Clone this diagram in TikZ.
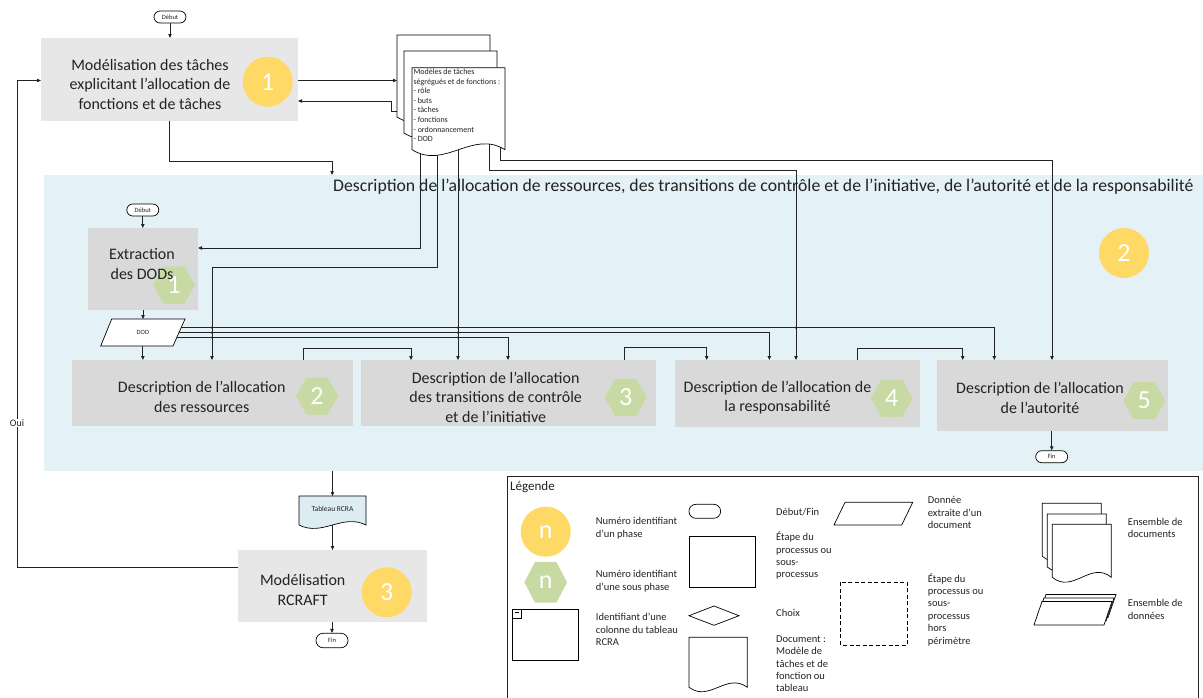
\documentclass[tikz,border=0pt]{standalone}
\usepackage{fontspec}
\setmainfont{Carlito}
\usetikzlibrary{arrows.meta,calc}
\pgfdeclarelayer{bg}
\pgfdeclarelayer{conn}
\pgfsetlayers{bg,conn,main}
\definecolor{regblue}{RGB}{228,241,246}
\definecolor{boxgray}{RGB}{217,217,217}
\definecolor{boxlight}{RGB}{232,231,231}
\definecolor{phase}{RGB}{255,217,102}
\definecolor{subph}{RGB}{199,218,163}
\definecolor{tabblue}{RGB}{221,236,243}
\definecolor{ink}{RGB}{35,35,35}
\newcommand\myfs[2]{\fontsize{#1}{#2}\selectfont}
% document shape: x, y, w, h, dev, style
\newcommand\docshape[6]{\draw[#6] (#1,#2) -- (#1+#3,#2) -- (#1+#3,#2+#4) .. controls (#1+0.65*#3,#2+#4-3.4*#5) and (#1+0.35*#3,#2+#4+3.4*#5) .. (#1,#2+#4) -- cycle;}
% hexagon: cx, cy, w, h
\newcommand\hexshape[4]{\fill[subph] (#1-#3/2,#2) -- (#1-#3/4,#2-#4/2) -- (#1+#3/4,#2-#4/2) -- (#1+#3/2,#2) -- (#1+#3/4,#2+#4/2) -- (#1-#3/4,#2+#4/2) -- cycle;}
\tikzset{
  arr/.style={draw=ink, line width=0.8pt, -{Triangle[length=4pt,width=3.4pt]}},
  ln/.style={draw=ink, line width=0.8pt},
  shp/.style={draw=black, line width=0.7pt, fill=white},
  stepbox/.style={fill=#1, draw=none, anchor=north west, inner sep=0pt, outer sep=0pt},
  pill/.style={draw=black, line width=0.7pt, fill=white, rounded corners=6pt, minimum width=32pt, minimum height=12pt, inner sep=0pt, font=\myfs{6.5}{7}, text=ink},
  phasenum/.style={circle, fill=phase, minimum size=50pt, inner sep=0pt, text=white, font=\myfs{26}{26}},
  subnum/.style={inner sep=0pt, text=white, font=\myfs{26}{26}},
  btxt/.style={align=center, font=\myfs{16}{19.5}, text=ink, inner sep=0pt},
  ltxt/.style={anchor=west, align=left, font=\myfs{10.5}{12.4}, text=ink, inner sep=0pt},
  frame/.style={anchor=north west, inner sep=0pt, outer sep=0pt, draw=none},
  jdot/.style={fill=ink}
}
\begin{document}
\begin{tikzpicture}[x=1pt,y=-1pt]
\useasboundingbox (0,0) rectangle (1203,697);

% ---------- background region ----------
\begin{pgfonlayer}{bg}
\node[stepbox=regblue, minimum width=1159pt, minimum height=296pt] (reg) at (44,175) {};
\node[anchor=west, font=\myfs{17.7}{20}, text=ink, inner sep=0pt] (regtitle) at (333,187) {Description de l’allocation de ressources, des transitions de contrôle et de l’initiative, de l’autorité et de la responsabilité};
\end{pgfonlayer}

% ---------- top part ----------
\node[pill] (deb1) at (170,17) {Début};
\node[stepbox=boxlight, minimum width=257pt, minimum height=83pt] (b1) at (41,38) {};
\node[phasenum] (p1) at (267.7,81.7) {1};
\node[btxt] (t1) at (150,84) {Modélisation des tâches\\explicitant l’allocation de\\fonctions et de tâches};

% document stack
\docshape{397}{35}{93}{82}{6}{shp}
\docshape{404}{51}{93}{82}{6}{shp}
\docshape{412}{67.7}{93}{82}{6}{shp}
\node[frame, minimum width=93pt, minimum height=82pt] (dk3) at (397,35) {};
\node[frame, minimum width=93pt, minimum height=82pt] (dk1) at (412,67.7) {};
\node[anchor=west, align=left, font=\myfs{8}{9.6}, text=ink, inner sep=0pt] (dtxt) at (413.3,105.3) {Modèles de tâches\\ségrégués et de fonctions :\\- rôle\\- buts\\- tâches\\- fonctions\\- ordonnancement\\- DOD};

% ---------- inside region ----------
\node[pill] (deb2) at (142.8,210) {Début};
\node[stepbox=boxgray, minimum width=110pt, minimum height=82pt] (ext) at (88,228) {};
\hexshape{174}{285}{42}{37}
\node[subnum] (h1) at (174,285) {1};
\node[btxt] (text) at (142,264) {Extraction\\des DODs};

% DOD parallelogram
\node[frame, minimum width=84.3pt, minimum height=27pt] (dod) at (100.7,319) {};
\draw[shp] (111.7,319) -- (185,319) -- (173,346) -- (100.7,346) -- cycle;
\node[font=\myfs{6.5}{7}, text=ink, inner sep=0pt] (dodt) at (dod.center) {DOD};

\node[stepbox=boxgray, minimum width=281pt, minimum height=66pt] (b2) at (72,360) {};
\node[stepbox=boxgray, minimum width=295pt, minimum height=66pt] (b3) at (361,360) {};
\node[stepbox=boxgray, minimum width=245pt, minimum height=67pt] (b4) at (675,360) {};
\node[stepbox=boxgray, minimum width=231pt, minimum height=71pt] (b5) at (937,360) {};
\hexshape{317}{396}{42}{37}
\hexshape{625.7}{397.3}{42}{37}
\hexshape{891.7}{398.3}{42}{37}
\hexshape{1144.3}{400.7}{42}{37}
\node[subnum] (h2) at (317,396) {2};
\node[subnum] (h3) at (625.7,397.3) {3};
\node[subnum] (h4) at (891.7,398.3) {4};
\node[subnum] (h5) at (1144.3,400.7) {5};
\node[btxt] (t2) at (201.8,397) {Description de l’allocation\\des ressources};
\node[btxt] (t3) at (495.7,397.2) {Description de l’allocation\\des transitions de contrôle\\et de l’initiative};
\node[btxt] (t4) at (777.5,397.8) {Description de l’allocation de\\la responsabilité};
\node[btxt] (t5) at (1040,397.8) {Description de l’allocation\\de l’autorité};
\node[pill] (fin2) at (1051.7,456.7) {Fin};
\node[phasenum] (p2) at (1124,253) {2};

% ---------- bottom part ----------
\docshape{299}{496}{67}{29}{3.5}{shp,fill=tabblue}
\node[frame, minimum width=67pt, minimum height=29pt] (tab) at (299,496) {};
\node[font=\myfs{7.5}{8}, text=ink, inner sep=0pt] (tabt) at (332.5,509) {Tableau RCRA};
\node[stepbox=boxlight, minimum width=189pt, minimum height=72pt] (b6) at (238,550) {};
\node[phasenum] (p3) at (386.7,592.3) {3};
\node[btxt] (t6) at (302.7,590) {Modélisation\\RCRAFT};
\node[pill, minimum height=14.4pt, rounded corners=7pt] (fin3) at (332,640.5) {Fin};

% ---------- connectors ----------
\begin{pgfonlayer}{conn}
\draw[arr] (deb1.south) -- (deb1.south |- b1.north);
\draw[arr] (b1.east |- 0,80.5) -- (dk3.west |- 0,80.5);
\draw[arr] (dk3.west |- 0,111.7) -- (391.7,111.7) -- (391.7,101) -- (b1.east |- 0,101);
\draw[arr] (b1.south) |- (332,161.5) -- (reg.north -| 332,0);
\draw[arr] (deb2.south) -- (deb2.south |- ext.north);
\draw[arr] (dk1.center -| 420,0) |- (ext.east |- 0,248);
\draw[arr] (dk1.center -| 437,0) |- (212,267) -- (b2.north -| 212,0);
\draw[arr] (dk1.center -| 458,0) -- (b3.north -| 458,0);
\draw[arr] (dk1.center -| 489,0) |- (796,170) -- (b4.north -| 796,0);
\draw[arr] (dk1.center -| 500,0) |- (1052,160) -- (b5.north -| 1052,0);
\draw[arr] (ext.south) -- (ext.south |- dod.north);
\draw[arr] (dod.south) -- (dod.south |- b2.north);
\draw[arr] (dod.center |- 0,337.5) -| (b3.north -| 508,0);
\draw[arr] (dod.center |- 0,332.6) -| (b4.north -| 769.3,0);
\draw[arr] (dod.center |- 0,327.6) -| (b5.north -| 994.3,0);
\draw[arr] (b2.north -| 303,0) |- (411,348.7) -- (b3.north -| 411,0);
\draw[arr] (b3.north -| 624,0) |- (706.7,347.7) -- (b4.north -| 706.7,0);
\draw[arr] (b4.north -| 857,0) |- (962.7,348) -- (b5.north -| 962.7,0);
\draw[arr] (b5.south -| fin2.north) -- (fin2.north);
\draw[arr] (reg.south -| 332.5,0) -- (tab.north);
\draw[arr] (tab.center) -- (b6.north -| tab.center);
\draw[arr] (b6.south -| fin3.north) -- (fin3.north);
\draw[arr] (b6.west |- 0,567.3) -| (17,80.5) -- (b1.west |- 0,80.5);
\foreach \xx in {212,458}{\foreach \yy in {327.6,332.6,337.5}{\fill[jdot] (\xx,\yy) circle (1.2pt);}}
\fill[jdot] (796,327.6) circle (1.2pt);
\end{pgfonlayer}
\node[fill=white, inner sep=1pt, font=\myfs{10}{11}, text=ink] (oui) at (17,423) {Oui};

% ---------- legend ----------
\draw[ln] (507,700) -- (507,476) -- (1198,476) -- (1198,700);
\node[anchor=west, font=\myfs{13}{15}, text=ink, inner sep=0pt] (legt) at (510,487.5) {Légende};
\node[phasenum] (lp) at (545.7,531.7) {n};
\hexshape{545.7}{582.3}{42.7}{40.7}
\node[subnum] (lh) at (545.7,582.3) {n};
\node[ltxt] (l1) at (595.7,528.2) {Numéro identifiant\\d’un phase};
\node[ltxt] (l2) at (595.7,581.3) {Numéro identifiant\\d’une sous phase};
\node[frame, draw=black, line width=0.7pt, minimum width=66.4pt, minimum height=51pt] (lcol) at (512.3,609) {};
\node[frame, draw=black, line width=0.6pt, minimum width=9pt, minimum height=9pt] (lcolid) at (512.3,609) {};
\draw[line width=0.6pt] (515,612) -- (518.5,612);
\node[ltxt] (l3) at (595.7,629.5) {Identifiant d’une\\colonne du tableau\\RCRA};
\node[pill, minimum width=31.7pt, minimum height=14pt, rounded corners=7pt] (lpill) at (704.8,511.3) {};
\node[ltxt] (l4) at (776,512) {Début/Fin};
\node[frame, draw=black, line width=0.7pt, minimum width=66.7pt, minimum height=51.3pt] (lrect) at (689,536) {};
\node[ltxt] (l5) at (776,555.7) {Étape du\\processus ou\\sous-\\processus};
\draw[shp] (689,615.7) -- (714,606) -- (739,615.7) -- (714,625.3) -- cycle;
\node[ltxt] (l6) at (776,612.7) {Choix};
\docshape{689}{637.3}{58.3}{50}{4.5}{shp}
\node[ltxt] (l7) at (776,663.7) {Document :\\Modèle de\\tâches et de\\fonction ou\\tableau};
\draw[shp] (845,502.3) -- (912.7,502.3) -- (901.7,525) -- (834,525) -- cycle;
\node[ltxt] (l8) at (927.7,512.5) {Donnée\\extraite d’un\\document};
\draw[line width=0.7pt, dashed, dash pattern=on 4pt off 2.5pt] (840.7,582.3) rectangle (907.3,645);
\node[ltxt] (l9) at (927.7,609.5) {Étape du\\processus ou\\sous-\\processus\\hors\\périmètre};
\docshape{1042.3}{503.3}{59}{53}{5}{shp}
\docshape{1047.3}{514}{59}{53}{5}{shp}
\docshape{1052.3}{524.3}{59}{53}{5}{shp}
\node[ltxt] (l10) at (1127.7,527.9) {Ensemble de\\documents};
\draw[shp] (1046,594.5) -- (1116,594.5) -- (1108,617.5) -- (1038,617.5) -- cycle;
\draw[shp] (1044,598) -- (1114,598) -- (1106,621) -- (1036,621) -- cycle;
\draw[shp] (1042,601.5) -- (1112,601.5) -- (1104,625) -- (1034,625) -- cycle;
\node[ltxt] (l11) at (1127.7,609.2) {Ensemble de\\données};
\end{tikzpicture}
\end{document}
